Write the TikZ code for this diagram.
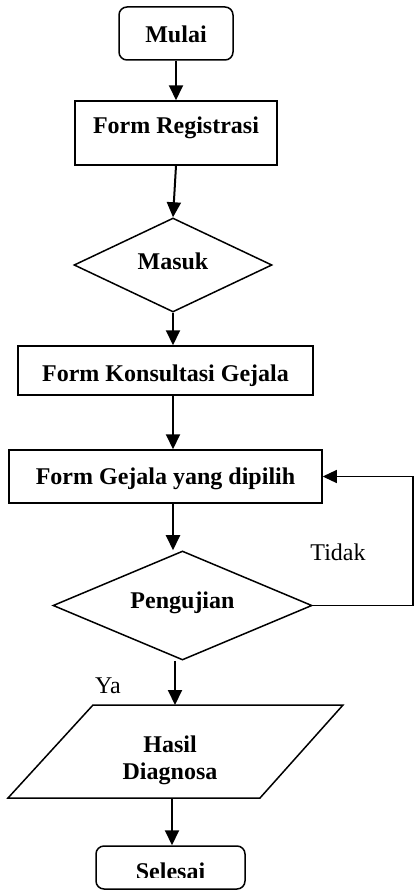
\documentclass[tikz,border=0pt]{standalone}
\usepackage{fontspec}
\setmainfont{Liberation Serif}
\usetikzlibrary{shapes.geometric,arrows.meta}

\begin{document}
\begin{tikzpicture}[x=1pt,y=-1pt,
  box/.style={draw, line width=1.5pt, font=\fontsize{24}{27}\selectfont\bfseries,
              inner sep=0pt, text depth=0pt},
  term/.style={box, rounded corners=8pt},
  dec/.style={box, diamond},
  arr/.style={line width=2pt, -{Triangle[length=15pt,width=14pt]}},
  back/.style={line width=1.2pt, -{Triangle[length=14pt,width=13pt]}},
  lbl/.style={font=\fontsize{24}{27}\selectfont, anchor=base, inner sep=0pt}]

\useasboundingbox (0,0) rectangle (414,891);
\clip (0,0) rectangle (414,891);

% process steps
\node[term, minimum width=114pt, minimum height=53pt, text height=19pt] (mulai) at (176,33.5) {Mulai};
\node[box, minimum width=202pt, minimum height=64pt, text height=0pt] (reg) at (176,133) {Form Registrasi};
\node[dec, minimum width=198pt, minimum height=94pt, text height=9pt] (masuk) at (173,265) {Masuk};
\node[box, minimum width=295pt, minimum height=49pt, text height=22pt] (kons) at (165.5,370.5) {Form Konsultasi Gejala};
\node[box, minimum width=313pt, minimum height=53pt, text height=15pt] (gej) at (165.5,476.5) {Form Gejala yang dipilih};
\node[dec, minimum width=259pt, minimum height=107pt, text height=5pt] (uji) at (182.5,605.5) {Pengujian};

% output parallelogram
\coordinate (hBL) at (8,798);
\coordinate (hTL) at (93,705);
\coordinate (hTR) at (343,705);
\coordinate (hBR) at (260,798);
\draw[line width=1.5pt] (hBL) -- (hTL) -- (hTR) -- (hBR) -- cycle;
\node[font=\fontsize{24}{27}\selectfont\bfseries, align=center, inner sep=0pt] (hasil) at (170,760) {Hasil\\Diagnosa};
\coordinate (hasilin) at (175,705);
\coordinate (hasilout) at (172,798);

% end terminal; its text is cut off by the frame of the text area
\node[term, minimum width=149pt, minimum height=43pt] (sel) at (170.5,867.5) {};
\begin{scope}
  \clip (0,0) rectangle (414,877);
  \node[font=\fontsize{24}{27}\selectfont\bfseries, anchor=base, inner sep=0pt] (selt) at (170.5,879) {Selesai};
\end{scope}

% branch labels
\node[lbl] (tidak) at (338,560) {Tidak};
\node[lbl] (ya) at (108,693) {Ya};

% connectors
\draw[arr] (mulai.south) -- (reg.north);
\draw[arr] (reg.south) -- (masuk.north);
\draw[arr] (masuk.south) -- (masuk.south |- kons.north);
\draw[arr] (masuk.south |- kons.south) -- (masuk.south |- gej.north);
\draw[arr] (masuk.south |- gej.south) -- (masuk.south |- uji.north);
\draw[arr] (hasilin |- uji.south) -- (hasilin);
\draw[arr] (hasilout) -- (hasilout |- sel.north);

% loop back when the test fails
\coordinate (rt) at (413,0);
\draw[back] (uji.east) -- (rt |- uji.east) -- (rt |- gej.east) -- (gej.east);
\end{tikzpicture}
\end{document}
